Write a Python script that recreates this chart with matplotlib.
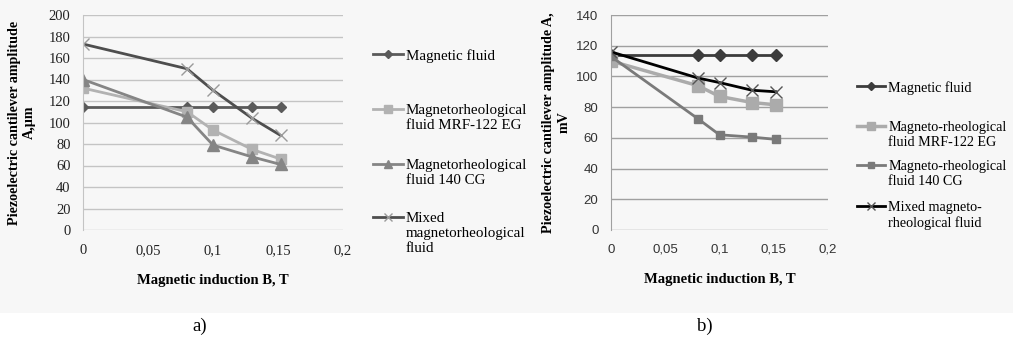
import numpy as np
import matplotlib
matplotlib.use("Agg")
import matplotlib.pyplot as plt
from matplotlib.patches import Rectangle

# ---- data ----
b_left = [0, 0.08, 0.1, 0.13, 0.152]
mag_fluid_a = [114, 114, 114, 114, 114]
mrf122_a = [132, 110, 93, 75, 66]
cg140_a = [140, 105, 79, 68, 61]
mixed_a = [173, 150, 130, 104, 88]

b_right = [0, 0.08, 0.1, 0.13, 0.152]
mag_fluid_b = [114, 114, 114, 114, 114]
mrf122_b = [110, 94, 87, 83, 81.5]
cg140_b = [113, 72.5, 62, 60.5, 59]
mixed_b = [116, 99, 96, 91, 90]

xticks = [0, 0.05, 0.1, 0.15, 0.2]
xtick_labels = ["0", "0,05", "0,1", "0,15", "0,2"]
yticks_a = [0, 20, 40, 60, 80, 100, 120, 140, 160, 180, 200]
yticks_b = [0, 20, 40, 60, 80, 100, 120, 140]

labels_a = ["Magnetic fluid",
            "Magnetorheological\nfluid MRF-122 EG",
            "Magnetorheological\nfluid 140 CG",
            "Mixed\nmagnetorheological\nfluid"]
labels_b = ["Magnetic fluid",
            "Magneto-rheological\nfluid MRF-122 EG",
            "Magneto-rheological\nfluid 140 CG",
            "Mixed magneto-\nrheological fluid"]

W, H = 1013, 341
serif = "Liberation Serif"
sans = "Liberation Sans"

fig = plt.figure(figsize=(W / 100, H / 100), dpi=100)
fig.patch.set_facecolor("white")
fig.patches.append(Rectangle((0, 1 - 313 / H), 1, 313 / H, transform=fig.transFigure,
                             facecolor="#f7f7f7", edgecolor="none", zorder=-5))


def fx(px):
    return px / W


def fy(py):
    return 1 - py / H


def style_axes(ax, yticks, ymax, gridcol, tickfont, ticksize, tickcol):
    ax.set_facecolor("none")
    ax.set_xlim(0, 0.2)
    ax.set_ylim(0, ymax)
    ax.set_xticks(xticks)
    ax.set_xticklabels(xtick_labels)
    ax.set_yticks(yticks)
    for s in ["top", "right", "bottom"]:
        ax.spines[s].set_visible(False)
    ax.spines["left"].set_color(gridcol)
    ax.yaxis.grid(True, color=gridcol, lw=1)
    ax.set_axisbelow(True)
    ax.tick_params(length=0, pad=10, labelsize=ticksize, colors=tickcol)
    ax.tick_params(axis="y", pad=9)
    for t in ax.get_xticklabels() + ax.get_yticklabels():
        t.set_family(tickfont)
    ax.set_xlabel("Magnetic induction B, T", family=serif, weight="bold",
                  fontsize=10.5, labelpad=12)


def add_legend(lines, labels, x_px, y_tops, size):
    for ln, lab, yt in zip(lines, labels, y_tops):
        leg = fig.legend([ln], [lab], loc="upper left",
                         bbox_to_anchor=(fx(x_px), fy(yt)),
                         frameon=False, borderpad=0, borderaxespad=0,
                         handlelength=2.0, handletextpad=0.2, markerscale=0.7,
                         prop={"family": serif, "size": size})
        # handle sits on the first text line, not the middle
        for col in leg._legend_handle_box.get_children():
            for row in col.get_children():
                row.align = "top"


# ---- panel a ----
ax1 = fig.add_axes([fx(83), fy(230), fx(260), (230 - 15) / H])
l1, = ax1.plot(b_left, mag_fluid_a, color="#5a5a5a", lw=2, marker="D", ms=5.5)
l2, = ax1.plot(b_left, mrf122_a, color="#b2b2b2", lw=2, marker="s", ms=7.5)
l3, = ax1.plot(b_left, cg140_a, color="#858585", lw=2, marker="^", ms=8)
l4, = ax1.plot(b_left, mixed_a, color="#4e4e4e", lw=2, marker="x", ms=8,
               mec="#9a9a9a", mew=1)
style_axes(ax1, yticks_a, 200, "#c4c4c4", serif, 10.5, "#222222")
ax1.set_ylabel("Piezoelectric cantilever amplitude\nA,\u03bcm", family=serif,
               weight="bold", fontsize=10.2, labelpad=9, linespacing=1.25)
add_legend([l1, l2, l3, l4], labels_a, 373, [49, 104, 159, 212], 10.8)

# ---- panel b ----
ax2 = fig.add_axes([fx(611), fy(230), fx(217), (230 - 15) / H])
r1, = ax2.plot(b_right, mag_fluid_b, color="#3c3c3c", lw=2, marker="D", ms=6)
r2, = ax2.plot(b_right, mrf122_b, color="#ababab", lw=2.5, marker="s", ms=8)
r3, = ax2.plot(b_right, cg140_b, color="#7a7a7a", lw=2, marker="s", ms=5.5)
r4, = ax2.plot(b_right, mixed_b, color="black", lw=2, marker="x", ms=8,
               mec="#555555", mew=1)
style_axes(ax2, yticks_b, 140, "#a0a0a0", sans, 9.5, "#333333")
ax2.set_ylabel("Piezoelectric cantilever amplitude A,\nmV", family=serif,
               weight="bold", fontsize=10.2, labelpad=4, linespacing=1.25)
add_legend([r1, r2, r3, r4], labels_b, 857, [81, 121, 160, 201], 10.2)

fig.text(fx(200), fy(326), "a)", family=serif, fontsize=13.5, ha="center", va="center")
fig.text(fx(705), fy(326), "b)", family=serif, fontsize=13.5, ha="center", va="center")

fig.savefig("out.png", dpi=100)
